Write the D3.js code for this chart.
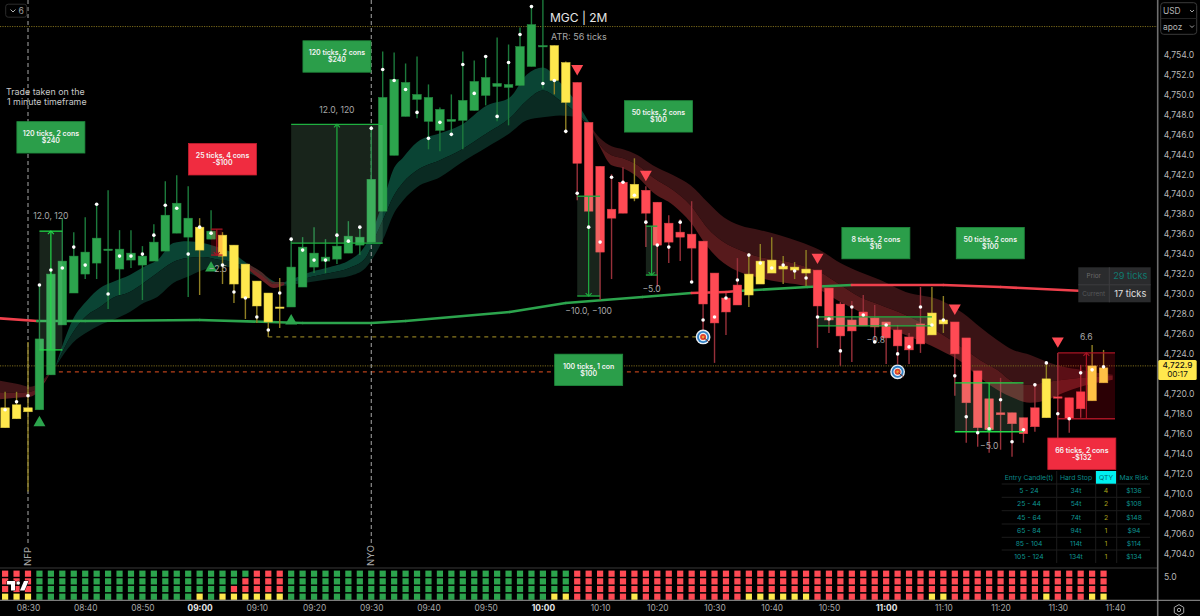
<!DOCTYPE html>
<html>
<head>
<meta charset="utf-8">
<title>MGC 2M</title>
<script src="https://cdn.jsdelivr.net/npm/d3@7"></script>
<style>
html, body { margin: 0; padding: 0; background: #000; overflow: hidden; }
text { font-family: Inter, "Noto Sans", sans-serif; }
</style>
</head>
<body>
<script>
// candles, bar 0 is 08:30, one bar is 2 minutes, first bar is -2
var firstBar = -2;
var candleStates = ("yyy" + "gggggggggggggg" + "y" + "g" + "yyyyyy" + "ggggggggggggggggggggggg" + "yy" + "rrrrr" + "y" + "rrrrrrrrr" + "yyyyyy" + "rrrrrrrrrr" + "yy" + "rrrrrrrr" + "y" + "rrr" + "yy").split("");
var opens = [4718.6,4718.9,4718.6,4718.4,4721.9,4726.9,4730.1,4732.0,4733.1,4734.4,
	4732.5,4733.4,4732.9,4733.3,4734.3,4736.1,4735.7,4736.7,4735.5,4735.9,
	4734.9,4733.0,4731.3,4730.1,4728.7,4728.7,4730.7,4732.7,4733.3,4733.5,
	4734.1,4734.9,4735.2,4738.3,4743.9,4747.8,4749.5,4747.3,4746.4,4747.3,
	4747.4,4748.4,4749.9,4750.8,4750.7,4750.9,4752.8,4754.8,4754.9,4753.2,
	4751.2,4747.2,4742.8,4738.5,4741.2,4741.0,4740.4,4739.2,4737.1,4736.2,
	4736.0,4735.3,4732.1,4729.6,4730.9,4732.0,4733.3,4733.4,4732.8,4732.7,
	4732.5,4732.4,4730.6,4729.0,4727.4,4728.2,4727.6,4727.2,4726.4,4725.7,
	4727.0,4728.1,4727.4,4727.2,4725.6,4722.3,4719.5,4718.1,4718.1,4717.6,
	4718.6,4721.5,4719.7,4719.6,4720.2,4722.8,4722.6];
var closes = [4716.6,4717.5,4718.2,4725.5,4732.0,4733.3,4733.8,4734.2,4735.6,4734.5,
	4734.5,4734.1,4733.8,4735.2,4737.9,4739.1,4737.6,4734.4,4736.3,4733.8,
	4731.0,4729.6,4728.8,4727.2,4728.6,4732.7,4734.7,4734.1,4733.7,4734.8,
	4735.8,4735.7,4741.5,4749.7,4751.5,4751.2,4750.0,4749.7,4748.5,4747.5,
	4749.4,4751.3,4751.7,4751.1,4751.0,4754.8,4757.0,4754.9,4751.4,4749.2,
	4743.1,4738.3,4734.2,4737.6,4738.1,4739.6,4738.1,4734.9,4735.2,4735.7,
	4734.6,4729.0,4727.1,4728.2,4728.9,4729.9,4731.0,4732.1,4732.5,4732.4,
	4732.1,4728.8,4727.4,4725.8,4726.3,4726.8,4726.7,4725.6,4724.8,4724.4,
	4725.0,4725.9,4727.0,4724.0,4719.1,4716.6,4716.4,4717.9,4717.0,4716.0,
	4716.7,4717.6,4719.6,4717.5,4718.5,4719.3,4721.1];
var highs = [4720.2,4720.2,4725.2,4730.9,4732.4,4737.6,4736.2,4737.7,4739.0,4740.4,
	4736.4,4736.4,4734.8,4737.0,4741.3,4741.9,4740.8,4737.6,4738.4,4736.2,
	4734.9,4733.0,4731.3,4730.1,4731.6,4735.6,4735.7,4736.7,4735.5,4735.9,
	4737.3,4736.7,4746.6,4754.3,4754.2,4753.1,4753.8,4751.0,4748.7,4750.0,
	4754.3,4753.4,4753.8,4755.7,4755.0,4756.7,4758.7,4759.5,4754.9,4753.3,
	4751.2,4747.2,4742.8,4742.0,4742.7,4743.6,4740.8,4739.2,4737.9,4737.5,
	4739.3,4735.3,4732.1,4730.1,4733.6,4734.1,4735.0,4735.7,4733.8,4733.2,
	4734.4,4732.4,4730.6,4729.2,4729.3,4729.9,4728.9,4727.2,4726.9,4726.1,
	4730.7,4730.7,4729.8,4727.2,4725.6,4722.3,4719.5,4721.6,4718.1,4717.6,
	4721.0,4723.1,4724.1,4719.6,4722.9,4724.9,4724.4];
var lows = [4716.6,4717.5,4710.2,4718.4,4721.9,4726.9,4730.1,4731.5,4731.5,4728.5,
	4729.9,4732.6,4729.4,4733.3,4734.3,4736.1,4729.7,4729.9,4735.5,4731.0,
	4729.1,4727.5,4727.1,4725.7,4726.6,4728.7,4730.7,4732.1,4732.1,4733.0,
	4734.1,4733.9,4735.2,4738.3,4743.9,4747.8,4747.6,4744.5,4744.3,4745.8,
	4744.5,4748.4,4748.9,4747.3,4746.9,4750.9,4752.8,4750.6,4750.0,4746.1,
	4739.4,4738.3,4729.4,4731.5,4738.1,4739.3,4734.7,4730.7,4733.1,4733.3,
	4731.2,4726.2,4723.1,4725.9,4728.9,4728.7,4731.0,4732.1,4731.0,4731.5,
	4730.8,4724.6,4726.1,4722.8,4723.2,4726.8,4725.1,4723.0,4723.0,4723.0,
	4724.1,4725.9,4726.1,4719.8,4715.1,4714.7,4714.1,4714.4,4713.7,4715.1,
	4716.2,4717.6,4715.4,4716.1,4717.6,4719.3,4721.1];
var dots = [4718.4,4719.2,4719.8,4730.9,4732.4,4732.6,4734.7,4732.9,4739.0,4730.0,
	4733.8,4733.8,4734.0,4735.9,4738.9,4738.6,4734.0,4736.7,4736.1,4732.9,
	4730.2,4729.6,4727.7,4726.4,4730.1,4735.5,4734.4,4733.4,4733.4,4735.9,
	4735.3,4736.7,4746.6,4752.5,4751.4,4750.5,4748.2,4745.6,4747.2,4746.0,
	4753.0,4750.1,4753.8,4747.8,4753.2,4756.0,4758.8,4751.1,4751.4,4746.3,
	4740.1,4736.7,4735.2,4741.7,4741.2,4739.9,4737.2,4734.9,4734.7,4737.2,
	4731.2,4727.4,4727.7,4729.6,4731.4,4733.9,4733.1,4732.6,4732.9,4732.3,
	4731.6,4727.7,4727.5,4724.3,4728.7,4727.9,4725.2,4726.9,4724.0,4724.7,
	4728.7,4726.9,4727.4,4721.8,4717.7,4716.1,4716.5,4719.4,4715.2,4716.4,
	4720.9,4723.1,4718.0,4717.5,4722.1,4722.4,4722.7];

// green ribbon, read at these bars
var greenBars = [2.4,3.9,5.2,6.3,7.4,8.9,10.1,11.3,12.7,13.9,15.3,16.8,17.9,19.1,20.3,22,22.9,24.7,26.4,28.1,29.5,30.3,31.2,31.9,32.8,34,36,37.8,40.1,42.1,43.6,45,46.5,48,49.1];
var greenTop = [4722.7,4727.4,4729.4,4730.6,4731.2,4731.9,4732.7,4733.4,4735.1,4735.3,4735.1,4734.6,4734.1,4733.1,4732.2,4731.1,4731.4,4732.2,4732.7,4733.4,4734.9,4736.9,4739.9,4742.4,4743.7,4745.2,4746.1,4746.9,4748.9,4749.7,4752.0,4752.7,4751.2,4749.1,4747.1];
var greenMid = [4722.7,4726.1,4727.9,4728.7,4729.6,4730.2,4731.1,4732.1,4733.2,4733.6,4733.7,4733.4,4733.2,4732.6,4731.7,4730.9,4731.1,4731.7,4732.1,4732.6,4733.6,4735.6,4737.9,4739.7,4741.2,4742.4,4743.4,4744.4,4746.1,4747.6,4749.4,4750.4,4749.4,4748.1,4746.9];
var greenBot = [4722.7,4725.1,4726.2,4726.9,4727.4,4728.2,4729.1,4729.7,4731.1,4731.7,4732.4,4732.7,4732.7,4732.2,4731.6,4730.8,4730.9,4731.2,4731.5,4731.8,4732.6,4733.9,4735.9,4737.9,4739.4,4740.7,4741.7,4743.1,4744.7,4746.1,4747.4,4747.7,4747.9,4747.7,4746.7];

// red ribbon after the 10:00 top
var redBars = [49.1,50,51,52,53.3,54.6,56.4,57.9,59.4,60.8,62.2,64,65.7,67.5,69.2,71,72.7,74.5,76.7,79.7,81.7,83.2,84.7,86.1,87.6,89.1,90.5,92,93.4,94.8];
var redTop = [4746.9,4745.6,4744.8,4744.5,4743.9,4742.9,4741.9,4740.9,4739.2,4737.7,4736.9,4736.4,4735.9,4735.2,4734.4,4733.1,4732.2,4731.4,4730.2,4729.4,4728.1,4726.7,4725.4,4724.4,4723.9,4723.2,4722.7,4722.4,4722.1,4721.9];
var redMid = [4746.9,4744.9,4743.9,4743.6,4742.9,4741.7,4740.4,4738.9,4736.6,4735.2,4734.4,4733.7,4733.4,4732.9,4732.2,4730.9,4729.7,4728.9,4727.9,4726.1,4724.6,4723.4,4722.4,4721.2,4720.9,4721.2,4721.4,4721.6,4721.7,4721.8];
var redBot = [4746.9,4744.7,4742.9,4742.6,4741.7,4740.2,4738.9,4737.2,4734.7,4733.1,4732.2,4731.6,4731.2,4730.9,4730.4,4729.2,4728.2,4726.9,4725.9,4724.4,4723.1,4721.6,4720.4,4719.6,4719.1,4719.4,4720.1,4720.7,4721.1,4721.4];

// red ribbon before the open and the small sliver near 09:10
var earlyBars = [-2.9,-1,0.2,1.5,2.1];
var earlyTop = [4721.4,4721.0,4720.7,4721.6,4722.4];
var earlyMid = [4720.2,4720.1,4720.2,4721.4,4722.4];
var earlyBot = [4719.4,4719.6,4719.7,4721.2,4722.4];
var sliverBars = [19.1,20.4,21.5,22.4];
var sliverTop = [4733.1,4732.2,4731.2,4731.2];
var sliverMid = [4732.9,4731.9,4731.0,4731.1];
var sliverBot = [4732.6,4731.4,4730.6,4730.9];

// long average, state says which colour the piece has
var maBars = [-2.9,0.8,5,15,24,30,33,42.1,47,53.7,58,61,62,68.1,72,80,85,94.1];
var maValues = [4727.6,4727.3,4727.3,4727.4,4727.1,4727.1,4727.3,4728.2,4729.1,4729.7,4730.1,4730.2,4730.3,4730.7,4730.9,4730.9,4730.7,4730.2];
var maStates = ["r","g","g","g","g","g","g","g","g","g","r","r","g","g","r","r","r","r"];

// trades
var boxStart = [1,23,48,54,69,81,90,16];
var boxEnd = [3,31,50,55,79,87,95,17];
var boxTop = [4736.3,4747.0,4739.8,4736.8,4727.7,4721.1,4724.1,4736.5];
var boxBottom = [4724.4,4735.1,4729.8,4731.9,4726.8,4716.2,4717.5,4733.9];
var boxColors = ["g","g","g","g","g","g","r","r"];
var boxArrowBar = [2,27,49,54.5,null,84,92.5,16.5];
var boxArrowDir = ["up","up","down","down",null,"down","up","down"];
var boxLabels = ["12.0, 120","12.0, 120","\u221210.0, \u2212100","\u22125.0","\u22120.8","\u22125.0","6.6","\u22122.5"];
var boxLabelBar = [2,27,49,54.5,74.1,84,92.5,16.6];
var boxLabelPrice = [4737.8,4748.5,4728.3,4730.5,4725.4,4714.8,4725.7,4732.5];

var noteBars = [2,27,17,55.1,74.1,84.1,49,92.1];
var notePrices = [4745.7,4753.8,4743.5,4747.8,4735.1,4735.1,4722.4,4714.0];
var noteLine1 = ["120 ticks, 2 cons","120 ticks, 2 cons","25 ticks, 4 cons","50 ticks, 2 cons","8 ticks, 2 cons","50 ticks, 2 cons","100 ticks, 1 con","66 ticks, 2 cons"];
var noteLine2 = ["$240","$240","-$100","$100","$16","$100","$100","-$132"];
var noteColors = ["g","g","r","g","g","g","g","r"];

var downBars = [48,54,69,81,90];
var downPrices = [4752.6,4742.0,4733.7,4728.6,4725.3];
var upBars = [1,23,16];
var upPrices = [4717.1,4727.3,4732.6];

var targetBars = [59,76];
var targetPrices = [4725.7,4722.2];

var dashPrices = [4725.7,4722.2];
var dashFrom = [21,2];
var dashTo = [59,76];
var dashColors = ["#8a7a20","#b8401a"];
var dottedPrices = [4756.8,4722.8];
var sessionBars = [0,30];
var sessionNames = ["NFP","NYO"];

// dot matrix at the bottom, one row per string
var heatRows = [
	"rrr" + "ggggggggggggggggggg" + "rrr" + "ggggggggggggggggggggggggg" + "r".repeat(47),
	"rrr" + "gggggggggggggggggg" + "rrrr" + "ggggggggggggggggggggggggg" + "r".repeat(47),
	"rrr" + "ggggggggggggggggg" + "rrrrr" + "ggggggggggggggggggggggggg" + "r".repeat(47),
	candleStates.join("")
];

// axes, 4,722 is hidden behind the last price tag
var priceTicks = [4754,4752,4750,4748,4746,4744,4742,4740,4738,4736,4734,4732,4730,4728,4726,4724,4720,4718,4716,4714,4712,4710,4708,4706,4704];
var timeBars = [0,5,10,15,20,25,30,35,40,45,50,55,60,65,70,75,80,85,90,95];
var timeLabels = ["08:30","08:40","08:50","09:00","09:10","09:20","09:30","09:40","09:50","10:00","10:10","10:20","10:30","10:40","10:50","11:00","11:10","11:20","11:30","11:40"];
var boldTimes = ["09:00","10:00","11:00"];
var lastPrice = 4722.9;
var lastCountdown = "00:17";

// risk table
var tableHeaders = ["Entry Candle(t)","Hard Stop","QTY","Max Risk"];
var tableEntry = ["5 - 24","25 - 44","45 - 64","65 - 84","85 - 104","105 - 124"];
var tableStop = ["34t","54t","74t","94t","114t","134t"];
var tableQty = ["4","2","2","1","1","1"];
var tableRisk = ["$136","$108","$148","$94","$114","$134"];

var width = 1200;
var height = 616;
var chartRight = 1157;
var paneBottom = 568;

var colors = { g: "#2ca44d", r: "#ff4a54", y: "#ffe84d" };
var wickColors = { g: "#1c7a3c", r: "#98303a", y: "#8f7f24" };
var noteFill = { g: "#2b9e4a", r: "#f02c40" };
var noteStroke = { g: "#1f8a3c", r: "#c81f30" };

var svg = d3.select("body")
	.append("svg")
	.attr("width", width)
	.attr("height", height)
	.style("display", "block");

svg.append("rect").attr("width", width).attr("height", height).attr("fill", "#000");

svg.append("clipPath").attr("id", "pane")
	.append("rect").attr("width", chartRight).attr("height", paneBottom);

var x = d3.scaleLinear().domain([0, 95]).range([28, 1115]);
var y = d3.scaleLinear().domain([4704, 4754]).range([553.5, 54.5]);

var g = svg.append("g").attr("clip-path", "url(#pane)");

// candles as one list of rows
var candles = opens.map(function(o, i) {
	return { bar: firstBar + i, open: o, close: closes[i], high: highs[i], low: lows[i], dot: dots[i], state: candleStates[i] };
});

//ribbon between two of the lines
function ribbon(bars, upper, lower, fill, opacity) {
	var area = d3.area()
		.x(function(d) { return x(bars[d]); })
		.y0(function(d) { return y(lower[d]); })
		.y1(function(d) { return y(upper[d]); })
		.curve(d3.curveMonotoneX);
	g.append("path")
		.attr("d", area(d3.range(bars.length)))
		.attr("fill", fill)
		.attr("opacity", opacity === undefined ? 1 : opacity);
}

ribbon(earlyBars, earlyTop, earlyMid, "#3e1517");
ribbon(earlyBars, earlyMid, earlyBot, "#5a1b1f");
ribbon(greenBars, greenTop, greenMid, "#0a4434");
ribbon(greenBars, greenMid, greenBot, "#0a2a22");
ribbon(sliverBars, sliverTop, sliverMid, "#4a2a28");
ribbon(sliverBars, sliverMid, sliverBot, "#6a2024");
ribbon(redBars, redTop, redMid, "#3a1315");
ribbon(redBars, redMid, redBot, "#571a1c");

// level lines
dottedPrices.forEach(function(p) {
	g.append("line")
		.attr("x1", 0).attr("x2", chartRight)
		.attr("y1", y(p)).attr("y2", y(p))
		.attr("stroke", "#7a6a1c").attr("stroke-width", 1).attr("stroke-dasharray", "1.2,1.2");
});
dashPrices.forEach(function(p, i) {
	g.append("line")
		.attr("x1", x(dashFrom[i])).attr("x2", x(dashTo[i]))
		.attr("y1", y(p)).attr("y2", y(p))
		.attr("stroke", dashColors[i]).attr("stroke-width", 1.2).attr("stroke-dasharray", "4,4");
});
// small leg of the gold line going up to the 09:12 low
g.append("line")
	.attr("x1", x(21)).attr("x2", x(21))
	.attr("y1", y(dashPrices[0])).attr("y2", y(lows[21 - firstBar]))
	.attr("stroke", dashColors[0]).attr("stroke-width", 1.2);

// session lines
sessionBars.forEach(function(b, i) {
	g.append("line")
		.attr("x1", x(b)).attr("x2", x(b))
		.attr("y1", 0).attr("y2", 546)
		.attr("stroke", "#a8a8a8").attr("stroke-width", 1).attr("stroke-dasharray", "4,3");
	g.append("text")
		.attr("transform", "translate(" + (x(b) + 3.2) + ",566) rotate(-90)")
		.attr("fill", "#a8a8a8").attr("font-size", 9.6)
		.text(sessionNames[i]);
});

// long average, piece by piece so the colour can change
d3.range(maBars.length - 1).forEach(function(i) {
	g.append("line")
		.attr("x1", x(maBars[i])).attr("y1", y(maValues[i]))
		.attr("x2", x(maBars[i + 1])).attr("y2", y(maValues[i + 1]))
		.attr("stroke", maStates[i] == "r" ? "#f0404c" : "#2ca44d")
		.attr("stroke-width", 2.6)
		.attr("stroke-linecap", "round");
});

// wicks
g.selectAll(".wick")
	.data(candles)
	.enter()
	.append("line")
	.attr("class", "wick")
	.attr("x1", function(d) { return x(d.bar); })
	.attr("x2", function(d) { return x(d.bar); })
	.attr("y1", function(d) { return y(d.high); })
	.attr("y2", function(d) { return y(d.low); })
	.attr("stroke", function(d) { return wickColors[d.state]; })
	.attr("stroke-width", 1.4);

// bodies
g.selectAll(".body")
	.data(candles)
	.enter()
	.append("rect")
	.attr("class", "body")
	.attr("x", function(d) { return x(d.bar) - 4.3; })
	.attr("width", 8.6)
	.attr("y", function(d) { return y(Math.max(d.open, d.close)); })
	.attr("height", function(d) { return Math.max(1.4, Math.abs(y(d.open) - y(d.close))); })
	.attr("fill", function(d) { return colors[d.state]; })
	.attr("stroke", function(d) { return d3.color(colors[d.state]).darker(0.5); })
	.attr("stroke-width", 0.5);

// trade boxes sit over the candles
boxStart.forEach(function(s, i) {
	var isRed = boxColors[i] == "r";
	var x0 = x(s), x1 = x(boxEnd[i]);
	var y0 = y(boxTop[i]), y1 = y(boxBottom[i]);
	var lineColor = isRed ? "#a81424" : (i == 0 || i == 5 ? "#22d848" : "#1fb040");
	g.append("rect")
		.attr("x", x0).attr("y", y0)
		.attr("width", x1 - x0).attr("height", y1 - y0)
		.attr("fill", isRed ? "rgba(255,0,30,0.17)" : "rgba(160,240,180,0.15)");
	[y0, y1].forEach(function(v) {
		g.append("line")
			.attr("x1", x0).attr("x2", x1)
			.attr("y1", v).attr("y2", v)
			.attr("stroke", lineColor).attr("stroke-width", 1.3);
	});
	if (boxArrowBar[i] !== null) {
		var ax = x(boxArrowBar[i]);
		var tip = boxArrowDir[i] == "up" ? y0 : y1;
		var back = boxArrowDir[i] == "up" ? 3 : -3;
		g.append("line")
			.attr("x1", ax).attr("x2", ax)
			.attr("y1", y0).attr("y2", y1)
			.attr("stroke", lineColor).attr("stroke-width", 1.2);
		g.append("path")
			.attr("d", "M" + (ax - 3) + "," + (tip + back) + "L" + ax + "," + tip + "L" + (ax + 3) + "," + (tip + back))
			.attr("fill", "none").attr("stroke", lineColor).attr("stroke-width", 1.1);
	}
});

// triangles
var triangle = d3.symbol().type(d3.symbolTriangle).size(62);
g.selectAll(".up")
	.data(upBars)
	.enter()
	.append("path")
	.attr("class", "up")
	.attr("d", triangle)
	.attr("fill", colors.g)
	.attr("transform", function(d, i) { return "translate(" + x(d) + "," + y(upPrices[i]) + ")"; });
g.selectAll(".down")
	.data(downBars)
	.enter()
	.append("path")
	.attr("class", "down")
	.attr("d", triangle)
	.attr("fill", colors.r)
	.attr("transform", function(d, i) { return "translate(" + x(d) + "," + y(downPrices[i]) + ") rotate(180)"; });

// box labels
g.selectAll(".boxlabel")
	.data(boxLabels)
	.enter()
	.append("text")
	.attr("class", "boxlabel")
	.attr("x", function(d, i) { return x(boxLabelBar[i]); })
	.attr("y", function(d, i) { return y(boxLabelPrice[i]) + 3.2; })
	.attr("text-anchor", "middle")
	.attr("fill", "#a8a8a8")
	.attr("font-size", 8.6)
	.text(function(d) { return d; });

// white dots
g.selectAll(".dot")
	.data(candles)
	.enter()
	.append("circle")
	.attr("class", "dot")
	.attr("cx", function(d) { return x(d.bar); })
	.attr("cy", function(d) { return y(d.dot); })
	.attr("r", 1.8)
	.attr("fill", "#fff");

// target icons
targetBars.forEach(function(b, i) {
	var t = g.append("g").attr("transform", "translate(" + x(b) + "," + y(targetPrices[i]) + ")");
	[[7.4, "#e8eef4"], [6, "#2f7fc4"], [4.2, "#e8eef4"], [3, "#e0402c"], [1.3, "#f0a030"]].forEach(function(c) {
		t.append("circle").attr("r", c[0]).attr("fill", c[1]);
	});
	t.append("line").attr("x1", 1).attr("y1", 1).attr("x2", 6).attr("y2", 5)
		.attr("stroke", "#7a2a20").attr("stroke-width", 1);
});

// profit and loss notes
noteBars.forEach(function(b, i) {
	var cx = x(b), cy = y(notePrices[i]);
	g.append("rect")
		.attr("x", cx - 34).attr("y", cy - 15.7)
		.attr("width", 68).attr("height", 31.4)
		.attr("fill", noteFill[noteColors[i]])
		.attr("stroke", noteStroke[noteColors[i]]).attr("stroke-width", 0.8);
	g.append("text")
		.attr("x", cx).attr("y", cy - 1.2)
		.attr("text-anchor", "middle").attr("fill", "#f4f4f4")
		.attr("font-size", 7).attr("font-weight", 600)
		.text(noteLine1[i]);
	g.append("text")
		.attr("x", cx).attr("y", cy + 5.8)
		.attr("text-anchor", "middle").attr("fill", "#f4f4f4")
		.attr("font-size", 7).attr("font-weight", 600)
		.text(noteLine2[i]);
});

// titles
g.append("text").attr("x", 550).attr("y", 21.7).attr("fill", "#e6e6e6").attr("font-size", 12).text("MGC | 2M");
g.append("text").attr("x", 551).attr("y", 39.5).attr("fill", "#a8a8a8").attr("font-size", 9).text("ATR: 56 ticks");
g.append("text").attr("x", 6).attr("y", 95.2).attr("fill", "#c8c8c8").attr("font-size", 8.9).text("Trade taken on the");
g.append("text").attr("x", 7).attr("y", 104.5).attr("fill", "#c8c8c8").attr("font-size", 8.9).text("1 minute timeframe");

// collapse button
g.append("rect").attr("x", 5.7).attr("y", 4.2).attr("width", 21).attr("height", 13).attr("rx", 2.5)
	.attr("fill", "#000").attr("stroke", "#2c2c2c");
g.append("path").attr("d", "M10.5,9.5L13,12L15.5,9.5").attr("fill", "none").attr("stroke", "#b0b0b0").attr("stroke-width", 1);
g.append("text").attr("x", 18.5).attr("y", 14.2).attr("fill", "#a0a0a0").attr("font-size", 8.6).text("6");

// prior / current box
var statBox = g.append("g").attr("transform", "translate(1078.3,267.3)");
statBox.append("rect").attr("width", 72.4).attr("height", 35).attr("fill", "#2a2b2d");
statBox.append("line").attr("x1", 31).attr("x2", 31).attr("y1", 0).attr("y2", 35).attr("stroke", "#3c3d3f");
statBox.append("line").attr("x1", 0).attr("x2", 72.4).attr("y1", 17.5).attr("y2", 17.5).attr("stroke", "#3c3d3f");
statBox.append("text").attr("x", 15.5).attr("y", 11).attr("text-anchor", "middle").attr("fill", "#6a6a6a").attr("font-size", 6.4).text("Prior");
statBox.append("text").attr("x", 15.5).attr("y", 28.8).attr("text-anchor", "middle").attr("fill", "#56585a").attr("font-size", 6.4).text("Current");
statBox.append("text").attr("x", 52).attr("y", 12.2).attr("text-anchor", "middle").attr("fill", "#0f7a70").attr("font-size", 9.2).text("29 ticks");
statBox.append("text").attr("x", 52).attr("y", 29.8).attr("text-anchor", "middle").attr("fill", "#e0e0e0").attr("font-size", 9.2).text("17 ticks");

// risk table
var colCenters = [1029, 1076, 1106, 1134];
var colLines = [1056.7, 1095.7, 1116.7];
var rowCenters = [490.7, 503.7, 517, 530.3, 543.7, 556.7];
var table = g.append("g").attr("font-size", 6.8);
colLines.forEach(function(c) {
	table.append("line").attr("x1", c).attr("x2", c).attr("y1", 471).attr("y2", 563).attr("stroke", "#1c1c1c");
});
[484, 497.3, 510.7, 524, 537.3, 550].forEach(function(v) {
	table.append("line").attr("x1", 1001.7).attr("x2", 1150).attr("y1", v).attr("y2", v).attr("stroke", "#1c1c1c");
});
table.append("rect").attr("x", 1096).attr("y", 471).attr("width", 20).attr("height", 12.7).attr("fill", "#00f0f0");
tableHeaders.forEach(function(h, i) {
	table.append("text").attr("x", colCenters[i]).attr("y", 479.8).attr("text-anchor", "middle")
		.attr("fill", i == 2 ? "#006a70" : "#0b8a88").text(h);
});
[tableEntry, tableStop, tableQty, tableRisk].forEach(function(col, c) {
	col.forEach(function(v, r) {
		table.append("text").attr("x", colCenters[c]).attr("y", rowCenters[r] + 2.5).attr("text-anchor", "middle")
			.attr("fill", c == 2 ? "#a8a01c" : "#0d9490").text(v);
	});
});

// pane separator, axis lines
svg.append("line").attr("x1", 0).attr("x2", chartRight).attr("y1", paneBottom).attr("y2", paneBottom).attr("stroke", "#1c1c1c").attr("stroke-width", 2);

// heat rows
var rowScale = d3.scalePoint().domain([0, 1, 2, 3]).range([573.7, 596.7]);
heatRows.forEach(function(row, r) {
	svg.selectAll(".cell" + r)
		.data(row.split(""))
		.enter()
		.append("rect")
		.attr("class", "cell" + r)
		.attr("x", function(d, i) { return x(firstBar + i) - 3.1; })
		.attr("y", rowScale(r) - 3.1)
		.attr("width", 6.2)
		.attr("height", 6.2)
		.attr("fill", function(d) { return colors[d]; });
});

// tradingview mark
var logo = svg.append("g").attr("fill", "#fff").attr("stroke", "#000").attr("stroke-width", 1).attr("paint-order", "stroke");
logo.append("path").attr("d", "M7,581H15V590.5H11V584.5H7Z");
logo.append("circle").attr("cx", 18.2).attr("cy", 583).attr("r", 1.8);
logo.append("path").attr("d", "M20,590.5L24,581H28.5L24.5,590.5Z");

// right scale
svg.append("line").attr("x1", 1157.7).attr("x2", 1157.7).attr("y1", 0).attr("y2", height).attr("stroke", "#6e6e6e").attr("stroke-width", 1.6);
svg.append("line").attr("x1", 0).attr("x2", width).attr("y1", 600.3).attr("y2", 600.3).attr("stroke", "#9a9a9a").attr("stroke-width", 1);

var priceAxis = d3.axisRight(y)
	.tickValues(priceTicks)
	.tickFormat(d3.format(",.1f"))
	.tickSize(0)
	.tickPadding(6);
var priceG = svg.append("g").attr("transform", "translate(1157.7,0)").call(priceAxis);
priceG.select(".domain").remove();
priceG.selectAll("text")
	.attr("fill", "#b8b8b8")
	.attr("font-size", 8.6)
	.style("font-family", "Inter, sans-serif");

svg.append("text").attr("x", 1164).attr("y", 580).attr("fill", "#b8b8b8").attr("font-size", 8.6).text("5.0");

var timeAxis = d3.axisBottom(x)
	.tickValues(timeBars)
	.tickFormat(function(d, i) { return timeLabels[i]; })
	.tickSize(0)
	.tickPadding(5);
var timeG = svg.append("g").attr("transform", "translate(0,600)").call(timeAxis);
timeG.select(".domain").remove();
timeG.selectAll("text")
	.attr("fill", function(d, i) { return boldTimes.indexOf(timeLabels[i]) >= 0 ? "#e8e8e8" : "#a8a8a8"; })
	.attr("font-weight", function(d, i) { return boldTimes.indexOf(timeLabels[i]) >= 0 ? 700 : 400; })
	.attr("font-size", 8.4)
	.style("font-family", "Inter, sans-serif");

// last price tag
var tagY = y(lastPrice);
svg.append("rect").attr("x", 1158.3).attr("y", tagY - 4.8).attr("width", 38.4).attr("height", 20).attr("rx", 1.5).attr("fill", "#ffe84d");
svg.append("text").attr("x", 1177.5).attr("y", tagY + 2.9).attr("text-anchor", "middle").attr("font-size", 8.2).attr("font-weight", 500).attr("fill", "#111").text(d3.format(",.1f")(lastPrice));
svg.append("text").attr("x", 1177.5).attr("y", tagY + 12.6).attr("text-anchor", "middle").attr("font-size", 8.2).attr("fill", "#111").text(lastCountdown);

// currency box
svg.append("rect").attr("x", 1160.7).attr("y", 2.7).attr("width", 36).attr("height", 31.6).attr("rx", 3)
	.attr("fill", "#000").attr("stroke", "#3a3a3a");
svg.append("line").attr("x1", 1160.7).attr("x2", 1196.7).attr("y1", 18.5).attr("y2", 18.5).attr("stroke", "#222");
svg.append("text").attr("x", 1163).attr("y", 13.5).attr("fill", "#b4b4b4").attr("font-size", 8.4).text("USD");
svg.append("text").attr("x", 1163).attr("y", 29.5).attr("fill", "#b4b4b4").attr("font-size", 8.4).text("apoz");
["M1190,10L1192,12L1194,10", "M1190,25.5L1192,27.5L1194,25.5"].forEach(function(p) {
	svg.append("path").attr("d", p).attr("fill", "none").attr("stroke", "#b4b4b4").attr("stroke-width", 0.9);
});

// settings icon
svg.append("path").attr("d", "M1179,604.6L1183.7,607.3V612.7L1179,615.4L1174.3,612.7V607.3Z").attr("fill", "none").attr("stroke", "#a8a8a8").attr("stroke-width", 1);
svg.append("circle").attr("cx", 1179).attr("cy", 610).attr("r", 1.7).attr("fill", "none").attr("stroke", "#a8a8a8");
</script>
</body>
</html>
